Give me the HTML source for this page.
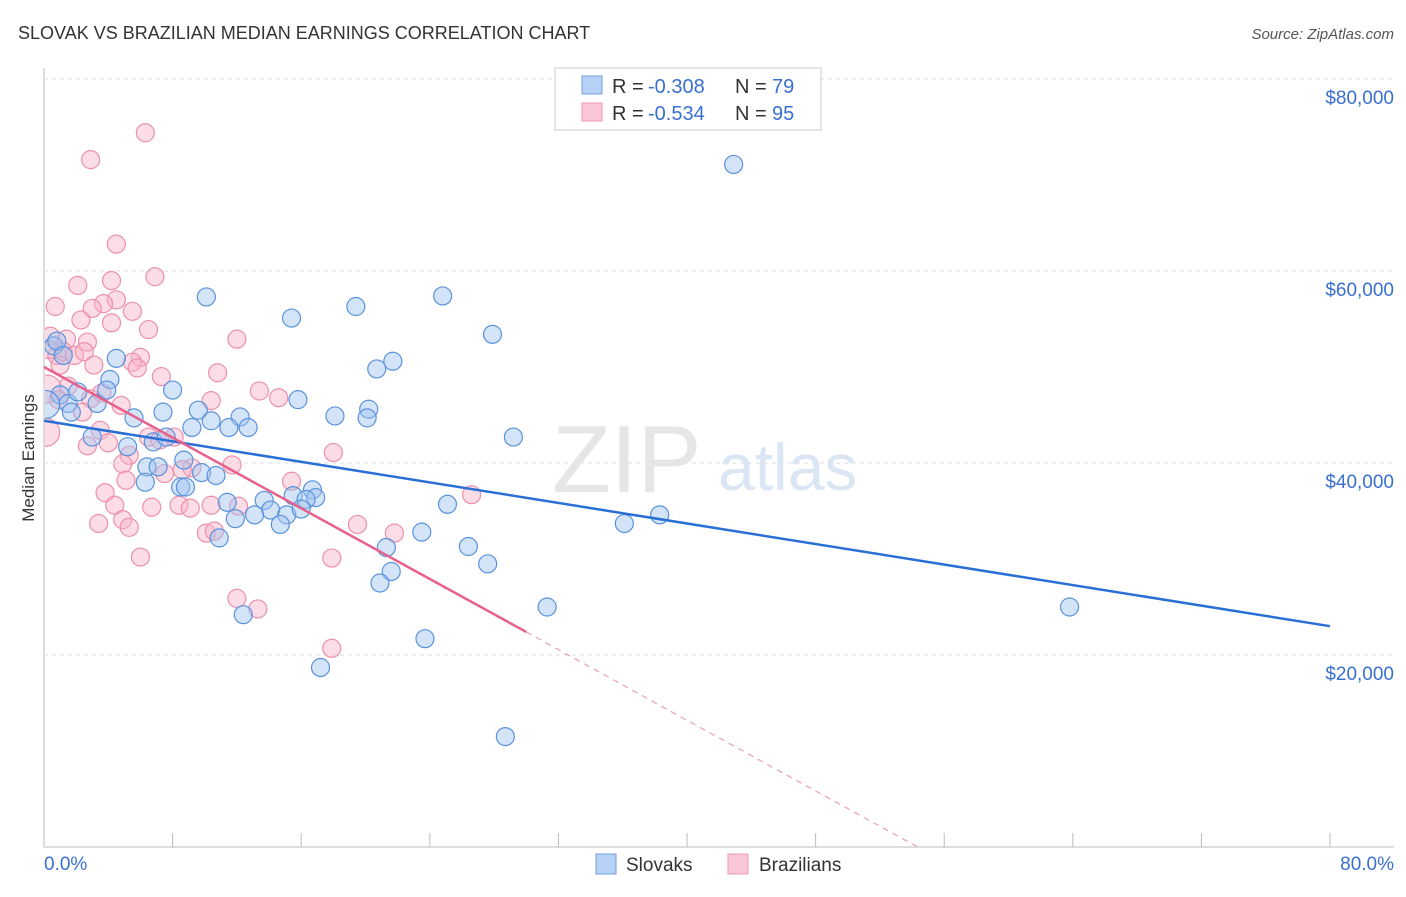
<!DOCTYPE html>
<html><head><meta charset="utf-8"><style>
body{margin:0;background:#fff;font-family:"Liberation Sans",sans-serif}
svg text{font-family:"Liberation Sans",sans-serif}
</style></head><body>
<svg id="c" width="1406" height="892" xmlns="http://www.w3.org/2000/svg">
<defs><clipPath id="plot"><rect x="45" y="60" width="1360" height="787"/></clipPath></defs>
<text x="18" y="39" font-size="18" fill="#333">SLOVAK VS BRAZILIAN MEDIAN EARNINGS CORRELATION CHART</text>
<text x="1394" y="39" font-size="15" fill="#555" text-anchor="end" font-style="italic">Source: ZipAtlas.com</text>
<text x="34" y="458" font-size="17" fill="#333" transform="rotate(-90 34 458)" text-anchor="middle">Median Earnings</text>
<g id="grid"></g>
<text x="552" y="492" font-size="96" fill="#e6e6e6" font-family="Liberation Serif">ZIP</text>
<text x="718" y="490" font-size="66" fill="#dbe6f5">atlas</text>
<g id="pts" clip-path="url(#plot)"></g>
<g id="lines"></g>
<g>
<rect x="555" y="68" width="266" height="62" fill="#fff" stroke="#ccc"/>
<rect x="582" y="76" width="20" height="18" fill="#b7d2f4" stroke="#6ea0e0"/>
<rect x="582" y="103" width="20" height="18" fill="#fbc7d6" stroke="#ee9ab5"/>
<text x="612" y="93" font-size="20" fill="#333">R =</text>
<text x="648" y="93" font-size="20" fill="#3a6fd0">-0.308</text>
<text x="735" y="93" font-size="20" fill="#333">N =</text>
<text x="772" y="93" font-size="20" fill="#3a6fd0">79</text>
<text x="612" y="120" font-size="20" fill="#333">R =</text>
<text x="648" y="120" font-size="20" fill="#3a6fd0">-0.534</text>
<text x="735" y="120" font-size="20" fill="#333">N =</text>
<text x="772" y="120" font-size="20" fill="#3a6fd0">95</text>
</g>
<g>
<rect x="596" y="854" width="20" height="20" fill="#b7d2f4" stroke="#6ea0e0"/>
<text x="626" y="871" font-size="19" fill="#333">Slovaks</text>
<rect x="728" y="854" width="20" height="20" fill="#fbc7d6" stroke="#ee9ab5"/>
<text x="759" y="871" font-size="19" fill="#333">Brazilians</text>
</g>
<text x="44" y="870" font-size="19" fill="#3a6fd0">0.0%</text>
<text x="1394" y="870" font-size="19" fill="#3a6fd0" text-anchor="end">80.0%</text>
</svg>
<script>
const yTicks=[20000,40000,60000,80000];
const yTickLabels=["$20,000","$40,000","$60,000","$80,000"];
const blueX=[42.9,10.1,24.8,15.4,19.4,27.9,21.7,20.7,4.5,0.6,4.1,15.8,20.2,20.1,18.1,8.0,9.6,7.4,12.2,10.4,11.5,12.7,9.2,5.6,29.2,3.0,1.0,1.5,2.1,3.3,3.9,1.7,0.1,6.8,5.2,7.6,8.7,6.4,7.1,9.8,10.7,6.3,8.5,8.8,11.4,13.7,15.5,16.7,16.9,16.3,14.1,13.1,11.9,15.1,16.0,14.7,10.9,25.1,36.1,38.3,23.5,26.4,21.3,27.6,21.6,20.9,31.3,63.8,12.4,23.7,17.2,28.7,0.8,1.2];
const blueY=[71.1,57.3,57.4,55.1,56.3,53.4,50.6,49.8,50.9,52.2,48.7,46.6,45.6,44.7,44.9,47.6,45.5,45.3,44.8,44.4,43.7,43.7,43.7,44.7,42.7,42.7,47.1,46.2,47.4,46.2,47.6,45.3,46.1,42.2,41.7,42.7,40.3,39.6,39.6,39.0,38.7,38.0,37.5,37.5,35.9,36.1,36.6,37.2,36.4,36.2,35.1,34.6,34.2,34.6,35.2,33.6,32.2,35.7,33.7,34.6,32.8,31.3,31.2,29.5,28.7,27.5,25.0,25.0,24.2,21.7,18.7,11.5,52.7,51.2];
const pinkX=[6.3,2.9,4.5,6.9,4.2,2.1,0.7,4.5,3.7,3.0,5.5,2.3,4.2,6.5,12.0,0.4,1.4,2.7,0.3,0.8,1.2,1.9,2.5,1.0,6.0,5.5,3.1,5.8,7.3,10.8,1.5,0.2,2.9,3.6,13.4,14.6,10.4,4.8,2.4,0.1,3.5,6.5,8.1,7.2,4.0,2.7,5.3,18.0,11.7,4.9,9.2,8.6,7.5,5.1,15.4,3.8,26.6,4.4,6.7,8.4,9.1,12.1,10.4,4.9,3.4,5.3,19.5,21.8,10.1,10.6,6.0,17.9,12.0,13.3,17.9,0.9];
const pinkY=[74.4,71.6,62.8,59.4,59.0,58.5,56.3,57.0,56.6,56.1,55.8,54.9,54.6,53.9,52.9,53.2,52.9,52.6,51.8,51.2,51.6,51.2,51.6,50.2,51.0,50.5,50.2,49.9,49.0,49.4,48.0,47.7,46.7,47.3,47.5,46.8,46.5,46.0,45.3,43.2,43.4,42.7,42.7,42.4,42.1,41.8,40.8,41.1,39.8,39.9,39.5,39.3,38.9,38.2,38.1,36.9,36.7,35.6,35.4,35.6,35.3,35.5,35.6,34.1,33.7,33.3,33.6,32.7,32.7,32.9,30.2,30.1,25.9,24.8,20.7,46.6];
const blueFit=[44.4,23.0];
const pinkFit=[50.0,22.4,30];
const xs=v=>44+v/80*1286;
const NS="http://www.w3.org/2000/svg";
function mk(t,a,p){const e=document.createElementNS(NS,t);for(const k in a)e.setAttribute(k,a[k]);p.appendChild(e);return e;}
const g=document.getElementById('grid');
let ax=mk('line',{x1:44,y1:68,x2:44,y2:847,stroke:'#bbb'},g);


let bx=mk('line',{x1:44,y1:847,x2:1394,y2:847,stroke:'#bbb'},g);


for(let i=0;i<=10;i++){const x=xs(i*8);const t=mk('line',{x1:x,y1:833,x2:x,y2:847,stroke:'#bbb'},g);

}
yTicks.forEach((v,i)=>{const y=847-v/20000*192;
const l=mk('line',{x1:44,y1:y,x2:1394,y2:y,stroke:'#ddd','stroke-dasharray':'4 4'},g);


const t=mk('text',{x:1394,y:y+25,'font-size':19,fill:'#3a6fd0','text-anchor':'end'},g);t.textContent=yTickLabels[i];

});
const P=document.getElementById('pts');
const yk=v=>847-v/20*192;
pinkX.forEach((x,i)=>{const c=mk('circle',{cx:xs(x),cy:yk(pinkY[i]),r:(x<0.3?14:9),fill:'rgba(248,180,200,0.45)',stroke:'#ec8fae','stroke-width':1.2},P);

});
blueX.forEach((x,i)=>{const c=mk('circle',{cx:xs(x),cy:yk(blueY[i]),r:(x<0.3?14:9),fill:'rgba(160,195,240,0.45)',stroke:'#5a92dc','stroke-width':1.2},P);

});
const L=document.getElementById('lines');
let b=mk('line',{x1:xs(0),y1:yk(blueFit[0]),x2:xs(80),y2:yk(blueFit[1]),stroke:'#2a6fd6','stroke-width':2.5},L);


let p=mk('line',{x1:xs(0),y1:yk(pinkFit[0]),x2:xs(pinkFit[2]),y2:yk(pinkFit[1]),stroke:'#e8608c','stroke-width':2.5},L);


const slope=(pinkFit[1]-pinkFit[0])/pinkFit[2];const xEnd=-pinkFit[0]/slope;
let pd=mk('line',{x1:xs(pinkFit[2]),y1:yk(pinkFit[1]),x2:xs(xEnd),y2:yk(0),stroke:'#e8a0b8','stroke-width':1.2,'stroke-dasharray':'6 5'},L);


</script>
</body></html>
